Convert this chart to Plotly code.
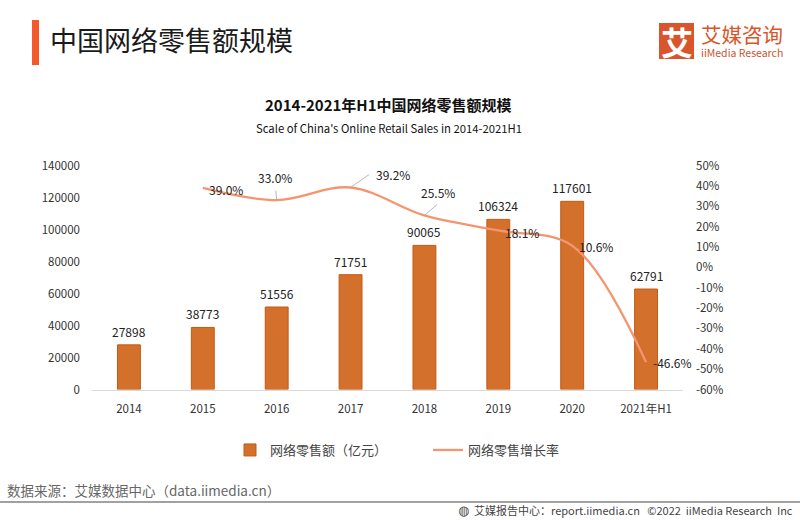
import plotly.graph_objects as go

categories = ["2014", "2015", "2016", "2017", "2018", "2019", "2020", "2021年H1"]
sales = [27898, 38773, 51556, 71751, 90065, 106324, 117601, 62791]
growth_years = categories[1:]
growth = [39.0, 33.0, 39.2, 25.5, 18.1, 10.6, -46.6]
left_ticks = [0, 20000, 40000, 60000, 80000, 100000, 120000, 140000]
right_ticks = [50, 40, 30, 20, 10, 0, -10, -20, -30, -40, -50, -60]

FONT = "Noto Sans CJK SC"
W, H = 800, 520
px = lambda v: v / W
py = lambda v: 1 - v / H

fig = go.Figure()
fig.add_trace(go.Bar(
    x=categories, y=sales, name="网络零售额（亿元）",
    marker=dict(color="#D2702C", line=dict(color="#C55A11", width=1)),
    width=0.31, cliponaxis=False,
))
fig.add_trace(go.Scatter(
    x=growth_years, y=growth, name="网络零售增长率", yaxis="y2", mode="lines",
    line=dict(color="#F4956F", width=2.3, shape="spline", smoothing=1.0),
))

annotations = []
for i, v in enumerate(sales):
    annotations.append(dict(
        x=i, y=v, xref="x", yref="y", text=str(v), showarrow=False, yanchor="bottom",
        yshift=3, font=dict(size=12, color="#222222", family=FONT),
    ))

# (text offset from the point, in pixels)
offsets = [(23, 2), (-2, -23), (42, -13), (14, -23), (24, 2), (24, 1), (26, 0)]
for cat, g, (dx, dy) in zip(growth_years, growth, offsets):
    annotations.append(dict(
        x=categories.index(cat), y=g, xref="x", yref="y2", text=f"{g:.1f}%", showarrow=False,
        xshift=dx, yshift=-dy, font=dict(size=12, color="#222222", family=FONT),
    ))
for cat, g, ax, ay in [("2016", 33.0, -1, -11), ("2017", 39.2, 20, -14), ("2018", 25.5, 14, -12)]:
    annotations.append(dict(
        x=categories.index(cat), y=g, xref="x", yref="y2", text="", showarrow=True, arrowhead=0,
        arrowwidth=0.8, arrowcolor="#A6A6A6", ax=ax, ay=ay,
    ))

def t(x, y, text, size, color="#222222", anchor="left", fam=FONT):
    annotations.append(dict(
        x=px(x), y=py(y), xref="paper", yref="paper", text=text, showarrow=False,
        xanchor=anchor, yanchor="middle", font=dict(size=size, color=color, family=fam),
        borderpad=0, borderwidth=0,
    ))

t(50, 40, "中国网络零售额规模", 27, "#1a1a1a")
t(388, 105, "<b>2014-2021年H1中国网络零售额规模</b>", 15, "#111111", "center")
t(388.5, 128, "Scale of China's Online Retail Sales in 2014-2021H1", 11.3, "#111111", "center")
t(701, 34, "艾媒咨询", 20.5, "#D9552B")
t(701, 53, "iiMedia Research", 10.5, "#C8572F")
t(676.5, 41, "<b>艾</b>", 32, "#FFFFFF", "center")
t(7, 490, "数据来源：艾媒数据中心（data.iimedia.cn）", 13.5, "#666666")
t(793, 510, "艾媒报告中心：report.iimedia.cn   ©2022  iiMedia Research  Inc", 11, "#444444", "right")
t(463, 510, "◍", 13, "#444444", "center", "DejaVu Sans")

shapes = [
    dict(type="rect", xref="paper", yref="paper", x0=px(32), x1=px(39), y0=py(20), y1=py(65),
         fillcolor="#F4592B", line=dict(width=0), layer="above"),
    dict(type="rect", xref="paper", yref="paper", x0=px(659), x1=px(694), y0=py(23), y1=py(59),
         fillcolor="#D9552B", line=dict(width=0), layer="below"),
    dict(type="line", xref="paper", yref="paper", x0=0, x1=1, y0=py(502), y1=py(502),
         line=dict(color="#444444", width=1.2)),
]

fig.update_layout(
    width=W, height=H, autosize=False, paper_bgcolor="white", plot_bgcolor="white",
    margin=dict(l=0, r=0, t=0, b=0, pad=0, autoexpand=False), showlegend=True,
    font=dict(family=FONT, size=12, color="#333333"),
    xaxis=dict(
        domain=[px(92), px(683)], type="category", categoryorder="array", categoryarray=categories,
        range=[-0.5, 7.5], autorange=False,
        showgrid=False, showline=True, linecolor="#D9D9D9", linewidth=1, ticks="",
        tickfont=dict(size=11.5, color="#333333"), ticklabelstandoff=9,
    ),
    yaxis=dict(
        domain=[py(389.5), py(165.5)], range=[0, 140000], tickvals=left_ticks,
        ticktext=[str(v) for v in left_ticks], showgrid=False,
        zeroline=False, showline=False, ticks="", tickfont=dict(size=11.5, color="#333333"),
        automargin=False, ticklabelstandoff=11,
    ),
    yaxis2=dict(
        domain=[py(389.5), py(165.5)], overlaying="y", side="right", anchor="x", range=[-60, 50],
        tickvals=right_ticks, ticktext=[f"{v}%" for v in right_ticks], showgrid=False,
        zeroline=False, showline=False, ticks="", tickfont=dict(size=11.5, color="#333333"),
        automargin=False, ticklabelstandoff=12,
    ),
    legend=dict(
        orientation="h", x=px(230), y=py(435), xanchor="left", yanchor="top",
        font=dict(size=13, color="#444444", family=FONT), itemwidth=30, tracegroupgap=0,
        bgcolor="rgba(0,0,0,0)", entrywidth=153,
    ),
    annotations=annotations, shapes=shapes,
)
fig.write_html(
    "out.html",
    config={"displayModeBar": False},
    post_script="document.body.style.margin='0';document.documentElement.style.overflow='hidden';",
)
